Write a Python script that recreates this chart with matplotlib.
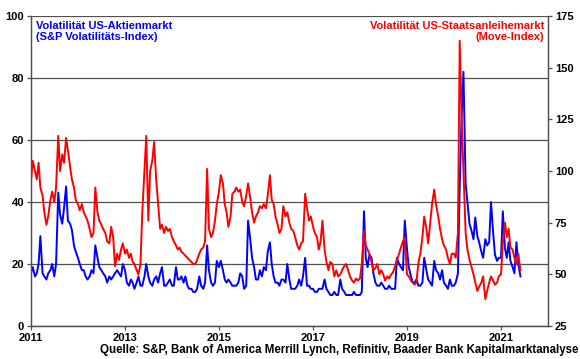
import matplotlib
matplotlib.use('Agg')
import matplotlib.pyplot as plt
import matplotlib.dates as mdates
import pandas as pd

plt.rcParams['font.family'] = ['Liberation Sans', 'DejaVu Sans']
plt.rcParams['font.weight'] = 'bold'

# VIX (left axis) (1st / 15th)
vix_2011 = [17, 19, 16, 17, 20, 29, 17, 16, 15, 17, 18, 20, 16, 20, 43, 36, 33, 38, 45, 34, 33, 31, 26, 24]
vix_2012 = [22, 20, 18, 18, 16, 15, 16, 18, 17, 26, 22, 19, 18, 17, 16, 14, 16, 15, 16, 17, 18, 17, 16, 20]
vix_2013 = [18, 14, 13, 15, 14, 12, 14, 16, 13, 13, 16, 20, 16, 14, 13, 15, 16, 14, 17, 19, 13, 13, 14, 15]
vix_2014 = [13, 13, 19, 15, 15, 16, 14, 16, 13, 12, 12, 11, 11, 12, 16, 13, 12, 14, 26, 18, 14, 13, 14, 21]
vix_2015 = [19, 21, 18, 15, 14, 15, 14, 13, 13, 13, 14, 17, 16, 12, 13, 34, 28, 22, 19, 15, 15, 18, 16, 19]
vix_2016 = [18, 24, 27, 20, 16, 14, 14, 13, 15, 15, 14, 20, 15, 12, 12, 12, 13, 15, 13, 16, 22, 13, 13, 12]
vix_2017 = [12, 11, 11, 12, 12, 12, 15, 12, 11, 10, 10, 11, 10, 10, 15, 12, 11, 10, 10, 10, 10, 11, 10, 10]
vix_2018 = [10, 11, 37, 22, 19, 23, 22, 17, 14, 13, 13, 14, 13, 12, 12, 13, 12, 12, 12, 22, 20, 19, 18, 34]
vix_2019 = [25, 19, 16, 14, 14, 15, 13, 13, 14, 22, 18, 15, 14, 13, 21, 18, 17, 15, 18, 14, 13, 12, 15, 13]
vix_2020 = [13, 14, 17, 45, 68, 82, 46, 40, 33, 31, 28, 35, 29, 27, 24, 22, 28, 26, 27, 40, 30, 23, 21, 22]
vix_2021 = [22, 37, 25, 22, 27, 21, 19, 17, 27, 20, 16]

# MOVE index (right axis), same dates
move_2011 = [95, 105, 100, 96, 104, 92, 88, 80, 74, 78, 86, 90, 85, 92, 117, 100, 108, 104, 116, 110, 102, 96, 92, 86]
move_2012 = [84, 81, 84, 80, 78, 76, 72, 68, 70, 92, 80, 76, 74, 72, 70, 66, 65, 73, 68, 54, 60, 57, 62, 65]
move_2013 = [60, 62, 58, 60, 56, 55, 52, 50, 55, 80, 100, 117, 76, 100, 105, 114, 95, 84, 72, 74, 70, 73, 71, 72]
move_2014 = [68, 66, 64, 62, 63, 61, 60, 59, 58, 57, 56, 55, 55, 57, 60, 62, 63, 66, 101, 72, 68, 70, 76, 84]
move_2015 = [90, 98, 94, 84, 80, 73, 78, 89, 90, 92, 90, 91, 85, 83, 88, 94, 87, 80, 75, 78, 80, 83, 82, 84]
move_2016 = [82, 88, 98, 86, 84, 78, 74, 70, 72, 83, 78, 80, 75, 72, 71, 68, 64, 62, 65, 66, 89, 82, 76, 78]
move_2017 = [73, 70, 68, 62, 66, 76, 62, 56, 52, 56, 55, 49, 52, 49, 50, 52, 54, 55, 52, 49, 47, 46, 48, 47]
move_2018 = [48, 55, 71, 64, 62, 60, 56, 52, 53, 55, 50, 52, 50, 47, 49, 48, 50, 51, 54, 57, 60, 63, 66, 68]
move_2019 = [50, 49, 47, 46, 45, 46, 56, 60, 68, 78, 72, 65, 75, 84, 91, 84, 78, 72, 67, 64, 62, 58, 55, 60]
move_2020 = [60, 58, 70, 163, 125, 100, 70, 62, 57, 54, 50, 46, 42, 44, 46, 49, 38, 42, 46, 49, 47, 45, 46, 49]
move_2021 = [50, 65, 75, 68, 72, 63, 62, 58, 55, 60, 52]

year_ticks = [2011, 2013, 2015, 2017, 2019, 2021]

vix = (vix_2011 + vix_2012 + vix_2013 + vix_2014 + vix_2015 + vix_2016
       + vix_2017 + vix_2018 + vix_2019 + vix_2020 + vix_2021)
move = (move_2011 + move_2012 + move_2013 + move_2014 + move_2015 + move_2016
        + move_2017 + move_2018 + move_2019 + move_2020 + move_2021)
dates = pd.date_range('2011-01-01', periods=len(vix), freq='SMS')

blue = '#0000ff'
red = '#ff0000'
grey = '#505050'

fig = plt.figure(figsize=(5.8, 3.59), dpi=100)
ax = fig.add_axes([0.0534, 0.0919, 0.8914, 0.8635])
ax2 = ax.twinx()

ax.plot(dates, vix, color=blue, lw=1.4)
ax2.plot(dates, move, color=red, lw=1.4)

ax.set_ylim(0, 100)
ax.set_yticks(range(0, 101, 20))
ax2.set_ylim(25, 175)
ax2.set_yticks(range(25, 176, 25))
ax.set_xlim(pd.Timestamp('2011-01-01'), pd.Timestamp('2022-01-01'))
ax.set_xticks([pd.Timestamp(f'{y}-01-01') for y in year_ticks])
ax.xaxis.set_major_formatter(mdates.DateFormatter('%Y'))

ax.grid(axis='y', color=grey, lw=0.9)
ax.set_axisbelow(True)
for a in (ax, ax2):
    a.spines['top'].set_visible(False)
    for s in ('left', 'right', 'bottom'):
        a.spines[s].set_color(grey)
        a.spines[s].set_linewidth(0.9)
    a.tick_params(labelsize=8, colors='black', length=3, width=0.9, pad=2)
    a.tick_params(axis='both', color=grey)

ax.text(0.01, 0.985, 'Volatilität US-Aktienmarkt\n(S&P Volatilitäts-Index)',
        transform=ax.transAxes, ha='left', va='top', color=blue,
        fontsize=8, fontweight='bold', linespacing=1.15)
ax.text(0.993, 0.985, 'Volatilität US-Staatsanleihemarkt\n(Move-Index)',
        transform=ax.transAxes, ha='right', va='top', color=red,
        fontsize=8, fontweight='bold', linespacing=1.15, multialignment='right')
fig.text(0.997, 0.008, 'Quelle: S&P, Bank of America Merrill Lynch, Refinitiv, Baader Bank Kapitalmarktanalyse',
         ha='right', va='bottom', fontsize=8.3, fontweight='bold')

fig.savefig('out.png', dpi=100)
